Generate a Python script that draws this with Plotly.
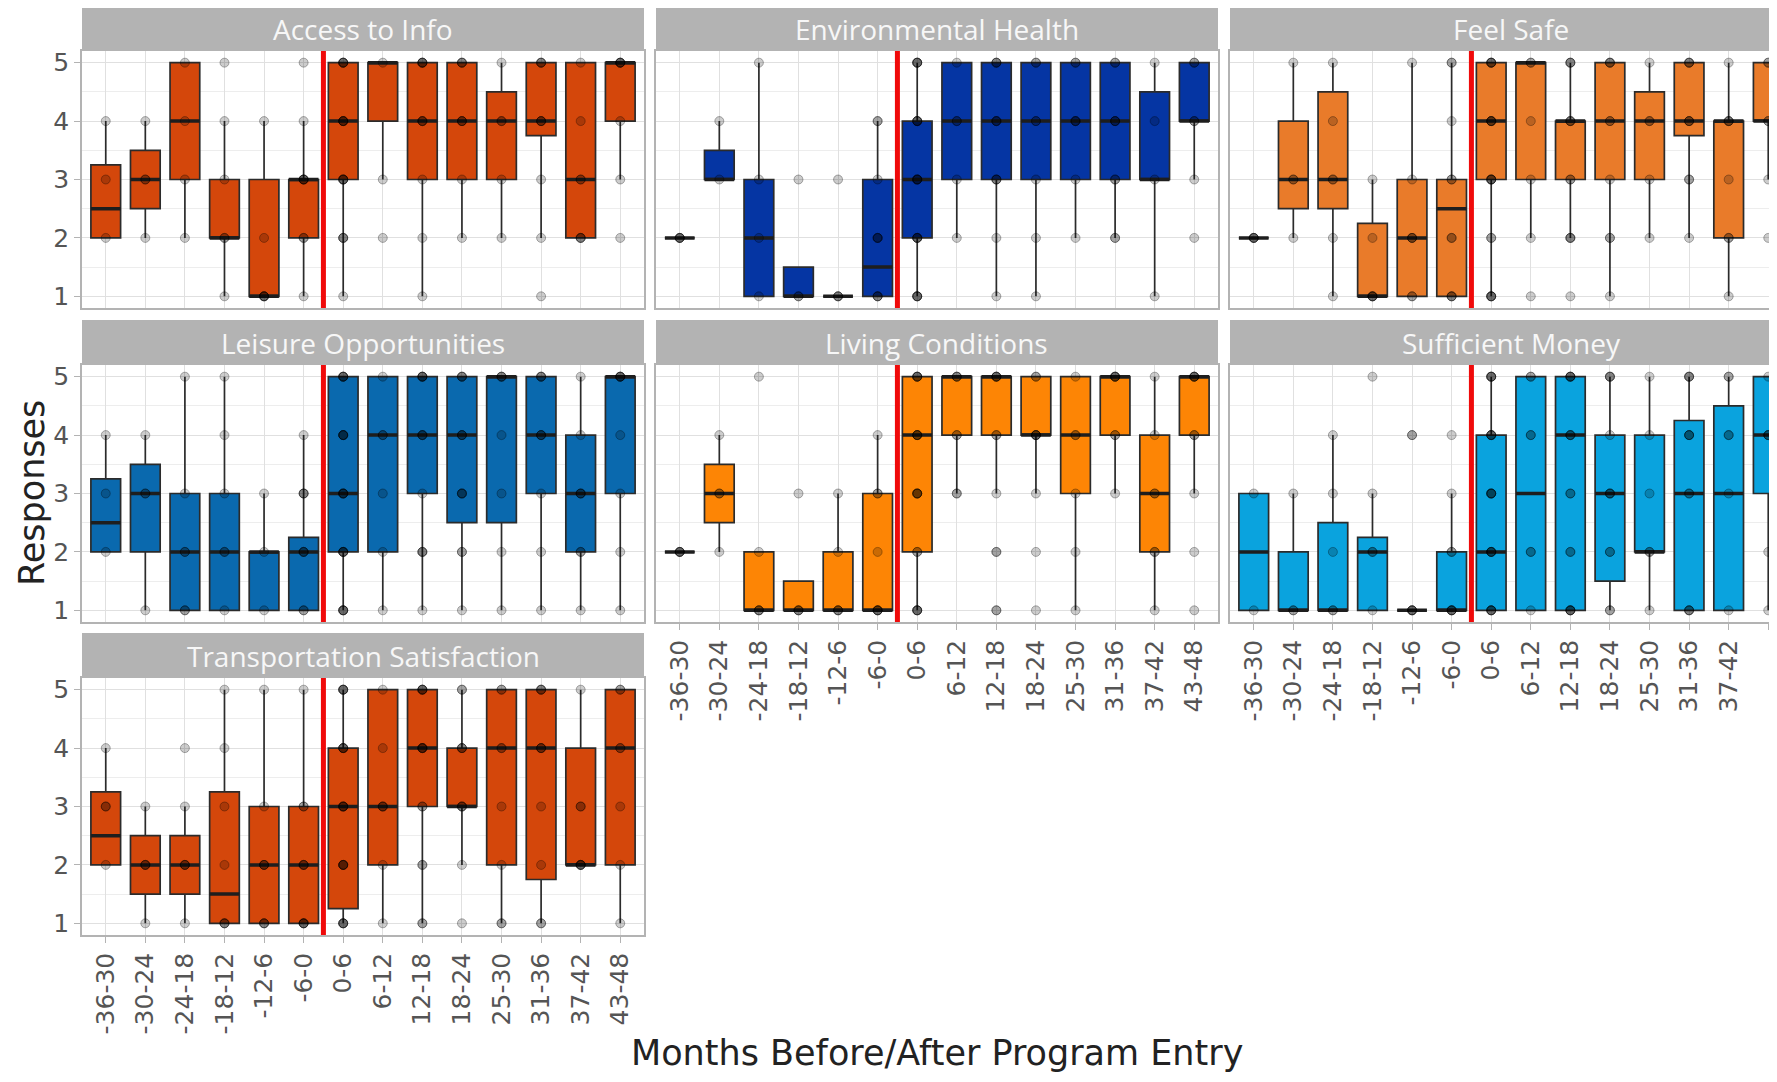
import plotly.graph_objects as go

# Months before/after program entry (x categories, shared by all panels)
categories = [
    "-36-30", "-30-24", "-24-18", "-18-12", "-12-6", "-6-0",
    "0-6", "6-12", "12-18", "18-24", "25-30", "31-36", "37-42", "43-48",
]
response_ticks = [1, 2, 3, 4, 5]

panel_titles = [
    "Access to Info",
    "Environmental Health",
    "Feel Safe",
    "Leisure Opportunities",
    "Living Conditions",
    "Sufficient Money",
    "Transportation Satisfaction",
]
panel_colors = ["#D4470B", "#0535A3", "#E97B2A", "#0A69AE", "#FD8505", "#0AA3DE", "#D4470B"]

# Box statistics per panel: q1, median, q3, lower whisker, upper whisker
access_q1 = [2, 2.5, 3, 2, 1, 2, 3, 4, 3, 3, 3, 3.75, 2, 4]
access_median = [2.5, 3, 4, 2, 1, 3, 4, 5, 4, 4, 4, 4, 3, 5]
access_q3 = [3.25, 3.5, 5, 3, 3, 3, 5, 5, 5, 5, 4.5, 5, 5, 5]
access_low = [2, 2, 2, 1, 1, 1, 1, 3, 1, 2, 2, 2, 2, 3]
access_high = [4, 4, 5, 4, 4, 4, 5, 5, 5, 5, 5, 5, 5, 5]

env_q1 = [2, 3, 1, 1, 1, 1, 2, 3, 3, 3, 3, 3, 3, 4]
env_median = [2, 3, 2, 1, 1, 1.5, 3, 4, 4, 4, 4, 4, 3, 4]
env_q3 = [2, 3.5, 3, 1.5, 1, 3, 4, 5, 5, 5, 5, 5, 4.5, 5]
env_low = [2, 3, 1, 1, 1, 1, 1, 2, 1, 1, 2, 2, 1, 3]
env_high = [2, 4, 5, 1.5, 1, 4, 5, 5, 5, 5, 5, 5, 5, 5]

safe_q1 = [2, 2.5, 2.5, 1, 1, 1, 3, 3, 3, 3, 3, 3.75, 2, 4]
safe_median = [2, 3, 3, 1, 2, 2.5, 4, 5, 4, 4, 4, 4, 4, 4]
safe_q3 = [2, 4, 4.5, 2.25, 3, 3, 5, 5, 4, 5, 4.5, 5, 4, 5]
safe_low = [2, 2, 1, 1, 1, 1, 1, 2, 2, 1, 2, 2, 1, 3]
safe_high = [2, 5, 5, 3, 5, 5, 5, 5, 5, 5, 5, 5, 5, 5]

leisure_q1 = [2, 2, 1, 1, 1, 1, 2, 2, 3, 2.5, 2.5, 3, 2, 3]
leisure_median = [2.5, 3, 2, 2, 2, 2, 3, 4, 4, 4, 5, 4, 3, 5]
leisure_q3 = [3.25, 3.5, 3, 3, 2, 2.25, 5, 5, 5, 5, 5, 5, 4, 5]
leisure_low = [2, 1, 1, 1, 1, 1, 1, 1, 1, 1, 1, 1, 1, 1]
leisure_high = [4, 4, 5, 5, 3, 4, 5, 5, 5, 5, 5, 5, 5, 5]

living_q1 = [2, 2.5, 1, 1, 1, 1, 2, 4, 4, 4, 3, 4, 2, 4]
living_median = [2, 3, 1, 1, 1, 1, 4, 5, 5, 4, 4, 5, 3, 5]
living_q3 = [2, 3.5, 2, 1.5, 2, 3, 5, 5, 5, 5, 5, 5, 4, 5]
living_low = [2, 2, 1, 1, 1, 1, 1, 3, 3, 3, 1, 3, 1, 3]
living_high = [2, 4, 2, 1.5, 3, 4, 5, 5, 5, 5, 5, 5, 5, 5]

money_q1 = [1, 1, 1, 1, 1, 1, 1, 1, 1, 1.5, 2, 1, 1, 3]
money_median = [2, 1, 1, 2, 1, 1, 2, 3, 4, 3, 2, 3, 3, 4]
money_q3 = [3, 2, 2.5, 2.25, 1, 2, 4, 5, 5, 4, 4, 4.25, 4.5, 5]
money_low = [1, 1, 1, 1, 1, 1, 1, 1, 1, 1, 1, 1, 1, 1]
money_high = [3, 3, 4, 3, 1, 3, 5, 5, 5, 5, 5, 5, 5, 5]

transport_q1 = [2, 1.5, 1.5, 1, 1, 1, 1.25, 2, 3, 3, 2, 1.75, 2, 2]
transport_median = [2.5, 2, 2, 1.5, 2, 2, 3, 3, 4, 3, 4, 4, 2, 4]
transport_q3 = [3.25, 2.5, 2.5, 3.25, 3, 3, 4, 5, 5, 4, 5, 5, 4, 5]
transport_low = [2, 1, 1, 1, 1, 1, 1, 1, 1, 2, 1, 1, 2, 1]
transport_high = [4, 3, 3, 5, 5, 5, 5, 5, 5, 5, 5, 5, 5, 5]

# Individual responses per category (repeated values overlap and look darker)
access_points = [
    [4, 3, 2], [4, 3, 3, 2], [5, 4, 3, 2], [5, 4, 3, 2, 2, 1], [4, 2, 1, 1, 1, 1],
    [5, 4, 3, 3, 3, 3, 2, 2, 1], [5, 5, 5, 5, 4, 4, 4, 4, 3, 3, 3, 3, 2, 2, 2, 1],
    [5, 3, 2], [5, 5, 5, 5, 4, 4, 4, 3, 2, 1], [5, 5, 5, 4, 4, 4, 3, 2],
    [5, 4, 4, 3, 2], [5, 5, 5, 4, 4, 4, 3, 2, 1], [5, 4, 3, 3, 2, 2, 2],
    [5, 5, 5, 5, 4, 3, 2],
]
env_points = [
    [2, 2, 2, 2], [4, 3], [5, 3, 2, 1], [3, 1, 1], [3, 1, 1, 1],
    [4, 4, 3, 2, 2, 2, 1, 1, 1], [5, 5, 5, 5, 4, 4, 4, 4, 3, 3, 3, 3, 2, 2, 2, 2, 1, 1, 1, 1],
    [5, 4, 4, 3, 2], [5, 5, 5, 4, 4, 4, 3, 3, 3, 2, 1], [5, 5, 4, 4, 3, 2, 1],
    [5, 5, 4, 4, 4, 3, 2], [5, 5, 4, 4, 4, 3, 3, 2, 2], [5, 4, 3, 1],
    [5, 5, 4, 4, 3, 2],
]
safe_points = [
    [2, 2, 2, 2], [5, 3, 3, 2], [5, 4, 3, 3, 2, 1], [3, 2, 1, 1, 1, 1],
    [5, 3, 2, 2, 2, 1, 1], [5, 5, 4, 3, 3, 2, 2, 1, 1, 1],
    [5, 5, 5, 5, 4, 4, 4, 4, 3, 3, 3, 3, 2, 2, 1, 1, 1, 1], [5, 5, 4, 3, 2, 1],
    [5, 5, 5, 4, 4, 4, 3, 3, 2, 2, 2, 1], [5, 5, 5, 4, 4, 3, 2, 2, 1],
    [5, 4, 4, 3, 2], [5, 5, 5, 4, 4, 4, 3, 3, 2], [5, 4, 4, 4, 3, 2, 2, 1],
    [5, 5, 4, 4, 3, 2],
]
leisure_points = [
    [4, 3, 2], [4, 3, 3, 1], [5, 3, 2, 2, 1, 1], [5, 4, 3, 2, 2, 1], [3, 2, 1],
    [4, 3, 3, 3, 2, 2, 2, 1, 1], [5, 5, 5, 5, 4, 4, 4, 4, 3, 3, 3, 3, 2, 2, 2, 2, 1, 1, 1, 1],
    [5, 4, 4, 3, 2, 1], [5, 5, 5, 5, 4, 4, 4, 3, 2, 2, 2, 1],
    [5, 5, 5, 4, 4, 4, 3, 3, 3, 2, 2, 1], [5, 5, 5, 4, 3, 2, 1],
    [5, 5, 5, 4, 4, 4, 3, 2, 1], [5, 4, 3, 3, 3, 2, 2, 1], [5, 5, 5, 5, 4, 3, 2, 1],
]
living_points = [
    [2, 2, 2, 2], [4, 3, 3, 2], [5, 2, 1, 1, 1], [3, 1, 1, 1], [3, 2, 1, 1, 1],
    [4, 3, 3, 2, 1, 1, 1, 1], [5, 5, 5, 5, 4, 4, 4, 4, 3, 3, 3, 3, 2, 2, 1, 1, 1, 1],
    [5, 5, 5, 4, 4, 3, 3], [5, 5, 5, 5, 4, 4, 3, 2, 2, 1, 1], [5, 5, 4, 4, 4, 4, 3, 2, 1],
    [5, 4, 4, 3, 2, 1], [5, 5, 5, 5, 4, 4, 3], [5, 4, 3, 3, 2, 2, 1],
    [5, 5, 5, 5, 4, 4, 3, 2, 1],
]
money_points = [
    [3, 1], [3, 1, 1], [4, 3, 2, 1, 1], [5, 3, 2, 2, 1], [4, 4, 1, 1, 1, 1],
    [4, 3, 2, 2, 1, 1, 1, 1], [5, 5, 5, 5, 4, 4, 4, 4, 3, 3, 3, 3, 2, 2, 2, 2, 1, 1, 1, 1],
    [5, 5, 4, 4, 2, 2, 1], [5, 5, 5, 5, 4, 4, 4, 3, 3, 2, 2, 1, 1, 1, 1],
    [5, 5, 5, 4, 3, 3, 3, 2, 2, 1, 1], [5, 4, 3, 2, 2, 1], [5, 5, 5, 4, 4, 4, 3, 3, 1, 1, 1],
    [5, 5, 4, 4, 3, 1], [5, 4, 4, 4, 2, 1],
]
transport_points = [
    [4, 3, 3, 2], [3, 2, 2, 2, 1], [4, 3, 2, 2, 2, 1], [5, 4, 3, 2, 1, 1, 1],
    [5, 3, 2, 2, 2, 1, 1, 1], [5, 3, 3, 2, 2, 2, 1, 1, 1, 1],
    [5, 5, 5, 5, 4, 4, 4, 4, 3, 3, 3, 3, 2, 2, 2, 2, 1, 1, 1, 1], [5, 4, 3, 3, 3, 2, 1],
    [5, 5, 5, 5, 4, 4, 4, 4, 3, 3, 2, 2, 1, 1], [5, 5, 4, 4, 4, 3, 3, 3, 2, 1],
    [5, 5, 4, 4, 3, 2, 1, 1], [5, 5, 5, 4, 4, 4, 3, 2, 1, 1], [5, 3, 3, 2, 2, 2, 2],
    [5, 5, 4, 4, 3, 2, 1],
]

panel_stats = [
    (access_q1, access_median, access_q3, access_low, access_high, access_points),
    (env_q1, env_median, env_q3, env_low, env_high, env_points),
    (safe_q1, safe_median, safe_q3, safe_low, safe_high, safe_points),
    (leisure_q1, leisure_median, leisure_q3, leisure_low, leisure_high, leisure_points),
    (living_q1, living_median, living_q3, living_low, living_high, living_points),
    (money_q1, money_median, money_q3, money_low, money_high, money_points),
    (transport_q1, transport_median, transport_q3, transport_low, transport_high, transport_points),
]

# Page geometry in pixels. The browser adds an 8px body margin on every side, so the
# figure is drawn 16px smaller (no scrollbars) and page positions are shifted by 8px.
PAGE_W, PAGE_H, BODY_MARGIN = 1777, 1082, 8
WIDTH, HEIGHT = PAGE_W - 2 * BODY_MARGIN, PAGE_H - 2 * BODY_MARGIN
COL_LEFT = [82, 656, 1230]
ROW_TOP = [51, 365, 678]
PANEL_W, PANEL_H, STRIP_H = 562, 257, 45
FONT = "DejaVu Sans"
TEXT_GREY = "#555555"
BORDER_GREY = "#B3B3B3"


def px_x(x: float) -> float:
    """Page x pixel -> paper coordinate"""
    return (x - BODY_MARGIN) / WIDTH


def px_y(y: float) -> float:
    """Page y pixel (from top) -> paper coordinate"""
    return 1 - (y - BODY_MARGIN) / HEIGHT


def add_panel(fig: go.Figure, idx: int, title: str, color: str, stats: tuple) -> None:
    """
    Add one facet: boxes, a thicker median bar, the raw responses, the strip and the entry line
    """
    row, col = divmod(idx, 3)
    suffix = "" if idx == 0 else str(idx + 1)
    xref, yref = f"x{suffix}", f"y{suffix}"
    q1, median, q3, low, high, points = stats
    positions = list(range(1, len(categories) + 1))

    fig.add_trace(
        go.Box(
            x=positions, q1=q1, median=median, q3=q3,
            lowerfence=low, upperfence=high,
            width=0.75, whiskerwidth=0, boxpoints=False,
            fillcolor=color, line=dict(color="#2B2B2B", width=1.7),
            xaxis=xref, yaxis=yref, showlegend=False, hoverinfo="skip",
        )
    )
    # ggplot draws the median twice as thick as the box outline
    fig.add_trace(
        go.Box(
            x=positions, q1=median, median=median, q3=median,
            lowerfence=median, upperfence=median,
            width=0.75, whiskerwidth=0, boxpoints=False,
            fillcolor="rgba(0,0,0,0)", line=dict(color="#1E1E1E", width=3.5),
            xaxis=xref, yaxis=yref, showlegend=False, hoverinfo="skip",
        )
    )

    # Individual responses
    point_x = [pos for pos, values in zip(positions, points) for _ in values]
    point_y = [v for values in points for v in values]
    fig.add_trace(
        go.Scatter(
            x=point_x, y=point_y, mode="markers",
            marker=dict(size=9, color="rgba(0,0,0,0.2)", line=dict(color="rgba(0,0,0,0.3)", width=1)),
            xaxis=xref, yaxis=yref, showlegend=False,
            hovertemplate="%{y}<extra></extra>",
        )
    )

    # Axes (the third column is cut off by the right edge of the page)
    left = COL_LEFT[col]
    right = min(left + PANEL_W, BODY_MARGIN + WIDTH)
    top = ROW_TOP[row]
    x_end = 0.4 + (len(categories) + 0.2) * (right - left) / PANEL_W
    bottom_axis = idx >= 4
    fig.update_layout(
        {
            f"xaxis{suffix}": dict(
                domain=[px_x(left), px_x(right)],
                anchor=yref, range=[0.4, x_end], automargin=False,
                tickmode="array", tickvals=positions, ticktext=categories,
                showticklabels=bottom_axis, tickangle=-90,
                ticks="outside" if bottom_axis else "", ticklen=6, tickcolor=BORDER_GREY,
                tickfont=dict(family=FONT, size=25, color=TEXT_GREY),
                showgrid=True, gridcolor="#E0E0E0", gridwidth=1.3, zeroline=False,
                showline=True, mirror=True, linecolor=BORDER_GREY, linewidth=1.5,
                fixedrange=True,
            ),
            f"yaxis{suffix}": dict(
                domain=[px_y(top + PANEL_H), px_y(top)],
                anchor=xref, range=[0.8, 5.2], automargin=False,
                tickmode="array", tickvals=response_ticks,
                showticklabels=col == 0,
                ticks="outside" if col == 0 else "", ticklen=6, tickcolor=BORDER_GREY,
                tickfont=dict(family=FONT, size=25, color=TEXT_GREY),
                showgrid=True, gridcolor="#E0E0E0", gridwidth=1.3, zeroline=False,
                minor=dict(tickvals=[1.5, 2.5, 3.5, 4.5], showgrid=True, gridcolor="#EDEDED", gridwidth=1),
                showline=True, mirror=col != 2, linecolor=BORDER_GREY, linewidth=1.5,
                fixedrange=True,
            ),
        }
    )

    # Facet strip
    fig.add_shape(
        type="rect", xref="paper", yref="paper", layer="below",
        x0=px_x(left), x1=px_x(right),
        y0=px_y(top), y1=px_y(top - STRIP_H),
        fillcolor=BORDER_GREY, line=dict(width=0),
    )
    fig.add_annotation(
        text=title, xref="paper", yref="paper", showarrow=False,
        x=px_x(left + PANEL_W / 2), y=px_y(top - STRIP_H / 2),
        xanchor="center", yanchor="middle",
        font=dict(family="Open Sans", size=28, color="#F7F7F7"),
    )

    # Program entry marker between "-6-0" and "0-6"
    entry = categories.index("0-6") + 0.5
    fig.add_shape(
        type="line", xref=xref, yref=f"{yref} domain", layer="above",
        x0=entry, x1=entry, y0=0, y1=1,
        line=dict(color="#F00A0A", width=5),
    )


def make_plot() -> go.Figure:
    fig = go.Figure()
    for idx, (title, color, stats) in enumerate(zip(panel_titles, panel_colors, panel_stats)):
        add_panel(fig, idx, title, color, stats)

    fig.add_annotation(
        text="Responses", textangle=-90, xref="paper", yref="paper", showarrow=False,
        x=px_x(32), y=px_y(493), xanchor="center", yanchor="middle",
        font=dict(family=FONT, size=35, color="#222222"),
    )
    # Sits on the bottom edge of the figure, like the original
    fig.add_annotation(
        text="Months Before/After Program Entry", xref="paper", yref="paper", showarrow=False,
        x=px_x(937), y=0, xanchor="center", yanchor="bottom", borderpad=0,
        font=dict(family=FONT, size=35, color="#222222"),
    )
    fig.update_layout(
        width=WIDTH, height=HEIGHT,
        margin=dict(l=0, r=0, t=0, b=0),
        paper_bgcolor="white", plot_bgcolor="white",
        font=dict(family=FONT),
        showlegend=False,
    )
    return fig


def main() -> None:
    fig = make_plot()
    fig.write_html("out.html")


if __name__ == "__main__":
    main()
